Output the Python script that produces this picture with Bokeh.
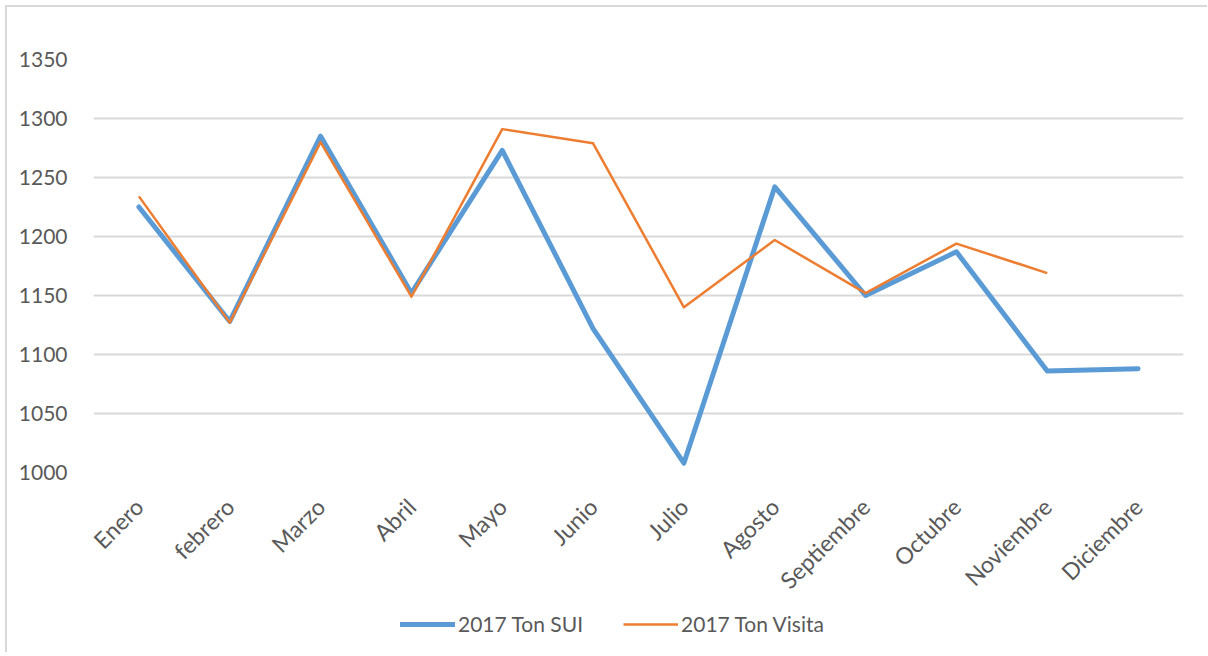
import math
from bokeh.plotting import figure
from bokeh.layouts import column
from bokeh.models import Legend, LegendItem, SingleIntervalTicker
from bokeh.embed import file_html
from bokeh.resources import INLINE

months = ["Enero", "febrero", "Marzo", "Abril", "Mayo", "Junio", "Julio",
          "Agosto", "Septiembre", "Octubre", "Noviembre", "Diciembre"]
ton_sui = [1225, 1128, 1285, 1152, 1273, 1122, 1008, 1242, 1150, 1187, 1086, 1088]
ton_visita = [1234, 1127, 1280, 1149, 1291, 1279, 1140, 1197, 1152, 1194, 1169]
series_names = ["2017 Ton SUI", "2017 Ton Visita"]

FONT = "Lato"
TXT = "#595959"
BLUE = "#5B9BD5"
ORANGE = "#ED7D31"

p = figure(x_range=months, y_range=(1000, 1350),
           frame_width=1090, frame_height=413,
           min_border_left=86, min_border_top=52, min_border_right=24,
           min_border_bottom=125,
           output_backend="svg", toolbar_location=None)
p.outline_line_color = None

p.xgrid.grid_line_color = None
p.ygrid.grid_line_color = "#d9d9d9"
p.ygrid.grid_line_width = 2

p.yaxis.ticker = SingleIntervalTicker(interval=50, num_minor_ticks=0)
for ax in (p.xaxis, p.yaxis):
    ax.axis_line_color = None
    ax.major_tick_line_color = None
    ax.minor_tick_line_color = None
    ax.major_label_text_font = FONT
    ax.major_label_text_font_size = "21px"
    ax.major_label_text_color = TXT
p.xaxis.major_label_text_font_size = "23px"
p.yaxis.major_label_standoff = 20
p.xaxis.major_label_orientation = math.pi / 4
p.xaxis.major_label_standoff = 24
p.x_range.range_padding = 0

p.line(months, ton_sui, line_color=BLUE, line_width=5, line_join="round", line_cap="round")
p.line(months[:len(ton_visita)], ton_visita, line_color=ORANGE, line_width=2.5, line_join="round")

# legend strip below the chart (its own plot, no axes)
pl = figure(x_range=(0, 1), y_range=(0, 1), width=1200, height=46,
            x_axis_location=None, y_axis_location=None,
            min_border=0, output_backend="svg", toolbar_location=None)
pl.grid.visible = False
pl.outline_line_color = None
d1 = pl.line([-2, -1], [-2, -1], line_color=BLUE, line_width=5, line_cap="round")
d2 = pl.line([-2, -1], [-2, -1], line_color=ORANGE, line_width=2.5)
legend = Legend(items=[LegendItem(label=series_names[0], renderers=[d1]),
                       LegendItem(label=series_names[1], renderers=[d2])],
                orientation="horizontal", location=(307, 16),
                label_text_font=FONT, label_text_font_size="21px", label_text_color=TXT,
                glyph_width=55, label_standoff=3, spacing=40,
                border_line_color=None, background_fill_alpha=0,
                margin=0, padding=0)
pl.add_layout(legend, "center")

layout = column(p, pl, spacing=0)
layout.styles = {"margin-left": "5px", "margin-top": "5px",
                 "border-left": "2px solid #d9d9d9", "border-top": "2px solid #d9d9d9",
                 "border-right": "0px", "border-bottom": "0px"}

open("out.html", "w").write(file_html(layout, INLINE))
